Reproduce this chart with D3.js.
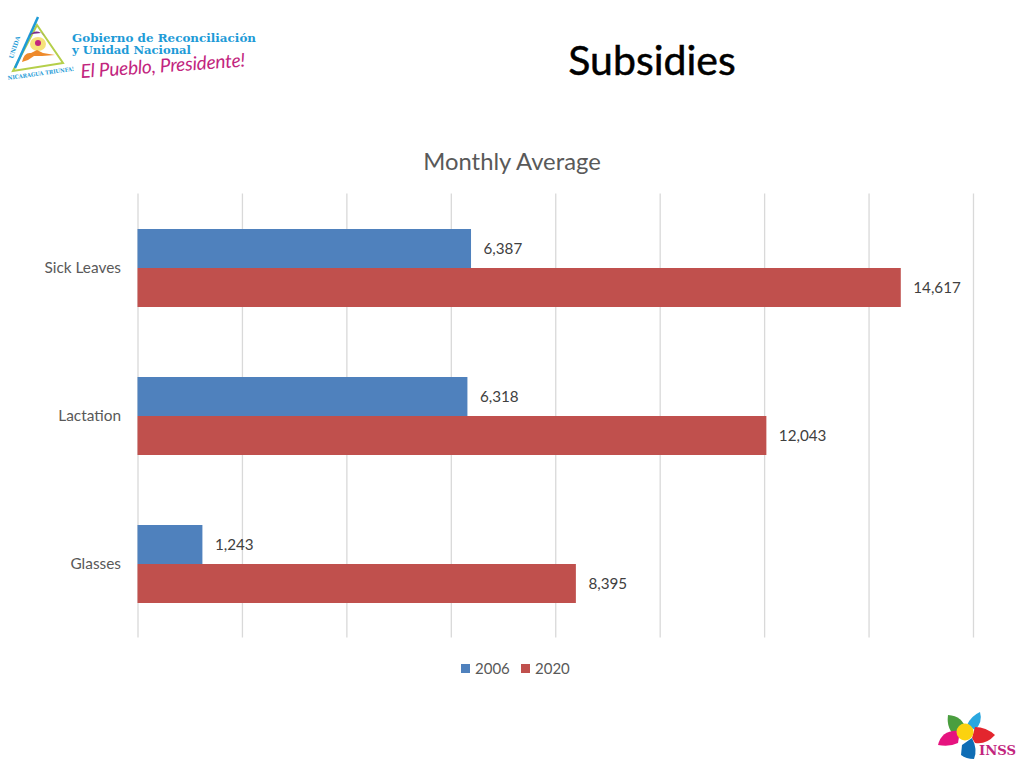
<!DOCTYPE html>
<html><head><meta charset="utf-8">
<script src="https://cdn.jsdelivr.net/npm/d3@7/dist/d3.min.js"></script>
<style>html,body{margin:0;padding:0;background:#fff}svg{display:block}text{font-family:Lato,"Open Sans",sans-serif}</style>
</head><body><div id="c"></div>
<script>
const categories = ["Sick Leaves","Lactation","Glasses"];
const years = ["2006","2020"];
const values2006 = [6387,6318,1243];
const values2020 = [14617,12043,8395];
const colors = ["#4f81bd","#c0504d"];
const tickValues = [0,2000,4000,6000,8000,10000,12000,14000,16000];
const series = [values2006, values2020];

const svg = d3.select("#c").append("svg").attr("width",1024).attr("height",768);
const x = d3.scaleLinear().domain([0,16000]).range([137.5,973]);
const y = d3.scaleBand().domain(categories).range([194,638]).paddingInner(0.473).paddingOuter(0.2365);
const inner = d3.scaleBand().domain(years).range([0,y.bandwidth()]);

svg.append("text").attr("x",652).attr("y",75).attr("text-anchor","middle")
  .attr("font-size",41).attr("fill","#000").attr("stroke","#000").attr("stroke-width",0.5).text("Subsidies");
svg.append("text").attr("x",512).attr("y",170).attr("text-anchor","middle")
  .attr("font-size",23.8).attr("fill","#595959").text("Monthly Average");

const grid = d3.axisBottom(x).tickValues(tickValues).tickSize(444).tickFormat("");
const g = svg.append("g").attr("transform","translate(0,193.5)").call(grid);
g.select(".domain").remove();
g.selectAll("line").attr("stroke","#d9d9d9").attr("stroke-width",1.3);

years.forEach((yr,i)=>{
  const gs = svg.append("g");
  gs.selectAll("rect").data(series[i]).join("rect")
    .attr("x",x(0)).attr("y",(d,k)=>y(categories[k])+inner(yr))
    .attr("width",d=>x(d)-x(0)).attr("height",inner.bandwidth()).attr("fill",colors[i]);
  gs.selectAll("text").data(series[i]).join("text")
    .attr("x",d=>x(d)+12.5).attr("y",(d,k)=>y(categories[k])+inner(yr)+inner.bandwidth()/2+5.5)
    .attr("font-size",15.2).attr("fill","#404040").text(d=>d3.format(",")(d));
});

svg.append("g").selectAll("text").data(categories).join("text")
  .attr("x",121).attr("y",d=>y(d)+y.bandwidth()/2+5)
  .attr("text-anchor","end").attr("font-size",15.4).attr("fill","#595959").text(d=>d);

const legendX = [461,521];
years.forEach((yr,i)=>{
  svg.append("rect").attr("x",legendX[i]).attr("y",664).attr("width",9).attr("height",9).attr("fill",colors[i]);
  svg.append("text").attr("x",legendX[i]+14).attr("y",674).attr("font-size",15).attr("fill","#595959").text(yr);
});

// Top-left logo
const logo = svg.append("g");
logo.append("path").attr("d","M37 25 L63 63 L13 71 Z").attr("fill","#fff").attr("stroke","#b5cf4a").attr("stroke-width",2);
logo.append("path").attr("d","M38 17 L15 68").attr("stroke","#1e9bd7").attr("stroke-width",2.5).attr("fill","none");
logo.append("path").attr("d","M29 36 Q36 27 45 36 L41 33 L32 34 Z").attr("fill","#7b2d8b");
logo.append("ellipse").attr("cx",38).attr("cy",44).attr("rx",8).attr("ry",7).attr("fill","#f6e27a");
logo.append("circle").attr("cx",38).attr("cy",43).attr("r",3).attr("fill","#c2257e");
logo.append("path").attr("d","M22 62 Q24 52 31 53 L37 50 L43 53 L55 55 L42 56 L34 56 L28 60 Z").attr("fill","#ee8a2b");
logo.append("text").attr("x",13).attr("y",59).attr("transform","rotate(-72 13 59)").attr("style","font-family:'DejaVu Serif';font-size:6px;font-weight:bold").attr("fill","#1e9bd7").text("UNIDA");
logo.append("text").attr("x",8).attr("y",80).attr("transform","rotate(-8 8 80)").attr("style","font-family:'DejaVu Serif';font-size:5.6px;font-weight:bold").attr("textLength",67).attr("lengthAdjust","spacingAndGlyphs").attr("fill","#1e9bd7").text("NICARAGUA TRIUNFA!");
logo.append("text").attr("x",72).attr("y",42).attr("style","font-family:'DejaVu Serif';font-size:11.5px;font-weight:bold").attr("textLength",184).attr("lengthAdjust","spacingAndGlyphs").attr("fill","#1e9bd7").text("Gobierno de Reconciliación");
logo.append("text").attr("x",72).attr("y",54).attr("style","font-family:'DejaVu Serif';font-size:11.5px;font-weight:bold").attr("textLength",119).attr("lengthAdjust","spacingAndGlyphs").attr("fill","#1e9bd7").text("y Unidad Nacional");
logo.append("text").attr("x",81).attr("y",78).attr("transform","rotate(-4 81 78)").attr("font-size",19).attr("font-style","italic").attr("textLength",165).attr("fill","#c2257e").text("El Pueblo, Presidente!");

// Bottom-right logo
const flower = svg.append("g");
flower.append("path").attr("d","M948 715 Q963 716 966 730 L957 737 Q946 730 948 715 Z").attr("fill","#4a9e3f");
flower.append("path").attr("d","M980 712 Q983 722 975 730 L967 725 Q971 716 980 712 Z").attr("fill","#2aa7df");
flower.append("path").attr("d","M975 727 Q986 727 995 735 Q986 745 975 743 L972 738 Z").attr("fill","#e3262e");
flower.append("path").attr("d","M938 745 Q942 729 960 731 L958 743 Q950 747 938 745 Z").attr("fill","#e6137f");
flower.append("path").attr("d","M962 745 L972 738 Q978 750 974 759 Q966 759 961 755 Z").attr("fill","#0f6db5");
flower.append("circle").attr("cx",965).attr("cy",732).attr("r",8.5).attr("fill","#fbd20f");
flower.append("text").attr("x",979).attr("y",755).attr("style","font-family:'DejaVu Serif';font-size:13px;font-weight:bold").attr("textLength",37).attr("lengthAdjust","spacingAndGlyphs").attr("fill","#c2257e").text("INSS");
</script></body></html>
